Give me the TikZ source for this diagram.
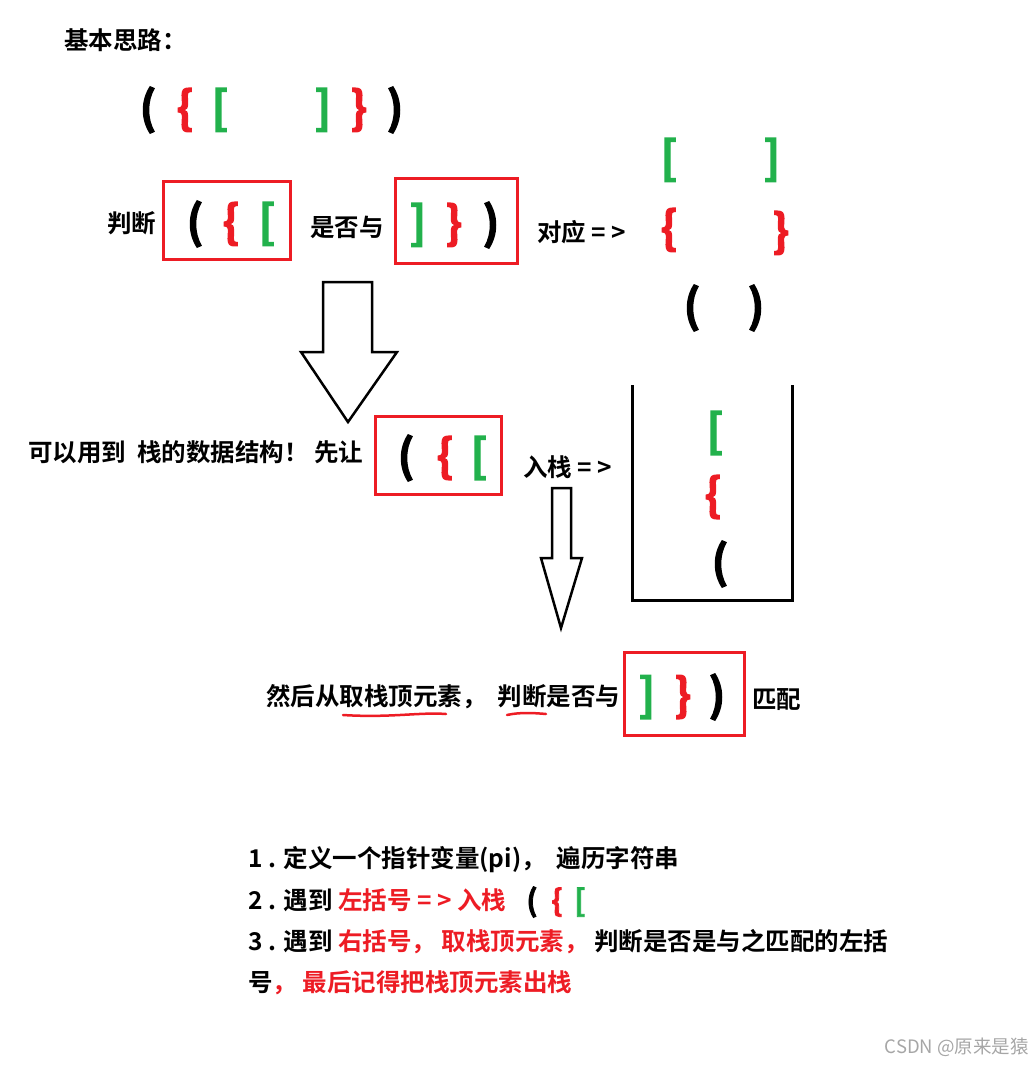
\documentclass[tikz,border=0pt]{standalone}
\usepackage{fontspec}
\usepackage{tikz}
\usetikzlibrary{positioning, calc}
\setmainfont{Noto Sans CJK SC}[BoldFont={Noto Sans CJK SC Bold}]
\newfontfamily\brkfont{Noto Sans CJK SC Bold}[FakeBold=2.5]
\definecolor{pred}{HTML}{ED1C24}
\definecolor{pgreen}{HTML}{22B14C}
\newcommand{\rtxt}[1]{\textcolor{pred}{#1}}

\tikzset{
    word/.style={font=\bfseries\fontsize{24.5}{28}\selectfont, inner sep=0pt, anchor=west},
    brk/.style={font=\brkfont\fontsize{45}{49}\selectfont, inner sep=0pt},
    smallbrk/.style={font=\brkfont\fontsize{30}{34}\selectfont, inner sep=0pt},
    redbox/.style={draw=pred, line width=3pt, inner sep=0pt},
    hollow/.style={draw, line width=2.5pt, fill=white, line join=miter},
}

\begin{document}
\begin{tikzpicture}[x=1pt, y=-1pt]
    \useasboundingbox (0,0) rectangle (1032,1065);

    % 标题
    \node[word] (title) at (64,40) {基本思路：};

    % 整串括号
    \node[brk] (t1) at (148,110) {(};
    \node[brk, text=pred] (t2) at (185,110) {\{};
    \node[brk, text=pgreen] (t3) at (220,110) {[};
    \node[brk, text=pgreen] (t4) at (323,110) {]};
    \node[brk, text=pred] (t5) at (359,110) {\}};
    \node[brk] (t6) at (395,110) {)};

    % 判断 ... 是否与 ...
    \node[word] (judge) at (107,223) {判断};
    \node[redbox, minimum width=127pt, minimum height=78pt] (boxl) at (226.5,220) {};
    \node[brk] (l1) at (195,224) {(};
    \node[brk, text=pred] (l2) at (231,224) {\{};
    \node[brk, text=pgreen] (l3) at (267,224) {[};
    \node[word] (same) at (310,227) {是否与};
    \node[redbox, minimum width=122pt, minimum height=85pt] (boxr) at (456,221) {};
    \node[brk, text=pgreen] (r1) at (418,225) {]};
    \node[brk, text=pred] (r2) at (454,225) {\}};
    \node[brk] (r3) at (491,225) {)};
    \node[word] (match) at (537,232) {对应 = >};

    % 对应关系
    \node[brk, text=pgreen] (p1) at (669,160) {[};
    \node[brk, text=pgreen] (q1) at (772,160) {]};
    \node[brk, text=pred] (p2) at (669,230) {\{};
    \node[brk, text=pred] (q2) at (781,233) {\}};
    \node[brk] (p3) at (692,308) {(};
    \node[brk] (q3) at (756,308) {)};

    % 空心箭头
    \draw[hollow] (323,282) -- (372,282) -- (372,352) -- (397,352) -- (348,422)
        -- (301,352) -- (323,352) -- cycle;

    % 入栈
    \node[word] (use) at (28,452) {可以用到\ \ 栈的数据结构！\ 先让};
    \node[redbox, minimum width=126pt, minimum height=78pt] (boxp) at (438,455) {};
    \node[brk] (s1) at (406,458) {(};
    \node[brk, text=pred] (s2) at (445,458) {\{};
    \node[brk, text=pgreen] (s3) at (479,458) {[};
    \node[word] (push) at (523,467) {入栈 = >};

    % 栈
    \draw[line width=3pt] (632,385) -- (632,600) -- (792,600) -- (792,385);
    \node[brk, text=pgreen] (k1) at (715,433) {[};
    \node[brk, text=pred] (k2) at (713,497) {\{};
    \node[brk] (k3) at (720,564) {(};

    \draw[hollow] (552,488) -- (571,488) -- (571,558) -- (582,558) -- (561,628)
        -- (541,558) -- (552,558) -- cycle;

    % 取栈顶
    \node[word] (pop) at (266,697) {然后从取栈顶元素，\ \ 判断是否与};
    \draw[pred, line width=2.5pt, line cap=round] (343,715) .. controls (390,718) and (420,712) .. (446,714);
    \draw[pred, line width=2.5pt, line cap=round] (507,715) .. controls (520,712) and (535,713) .. (546,714);
    \node[redbox, minimum width=120pt, minimum height=83pt] (boxq) at (684,693.5) {};
    \node[brk, text=pgreen] (c1) at (647,697) {]};
    \node[brk, text=pred] (c2) at (683,697) {\}};
    \node[brk] (c3) at (717,697) {)};
    \node[word] (pair) at (752,700) {匹配};

    % 步骤
    \node[word] (step1) at (248,860) {1 . 定义一个指针变量(pi)，\ \ 遍历字符串};
    \node[word] (step2) at (248,900) {2 . 遇到 \rtxt{左括号 = > 入栈}};
    \node[smallbrk] (m1) at (532,902) {(};
    \node[smallbrk, text=pred] (m2) at (557,902) {\{};
    \node[smallbrk, text=pgreen] (m3) at (580,902) {[};
    \node[word] (step3) at (248,942) {3 . 遇到 \rtxt{右括号，\ 取栈顶元素，}\ 判断是否是与之匹配的左括};
    \node[word] (step4) at (248,983) {号\rtxt{，\ 最后记得把栈顶元素出栈}};

    % 水印
    \node[font=\fontsize{18.5}{22}\selectfont, text=black!35, inner sep=0pt, anchor=east] (mark) at (1029,1047) {CSDN @原来是猿};
\end{tikzpicture}
\end{document}
